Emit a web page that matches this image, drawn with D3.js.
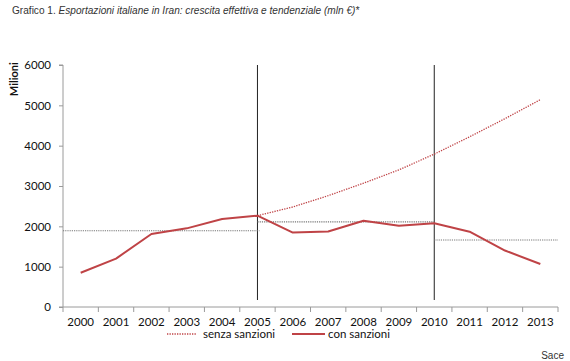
<!DOCTYPE html>
<html>
<head>
<meta charset="utf-8">
<script src="https://cdn.jsdelivr.net/npm/d3@7"></script>
<style>
  body { margin: 0; background: #fff; }
  svg { display: block; }
</style>
</head>
<body>
<svg id="chart" width="570" height="361"></svg>
<script>
// ---- data ----
const years = ["2000","2001","2002","2003","2004","2005","2006","2007","2008","2009","2010","2011","2012","2013"];
const conSanzioni = [850, 1200, 1810, 1950, 2180, 2264, 1845, 1870, 2140, 2015, 2075, 1868, 1400, 1066];
const senzaYears = ["2005","2006","2007","2008","2009","2010","2011","2012","2013"];
const senzaSanzioni = [2264, 2480, 2760, 3070, 3400, 3790, 4220, 4670, 5140];
const periodStart = ["2000", "2005", "2010"];
const periodEnd = ["2005", "2010", "2013"];
const periodAvg = [1890, 2110, 1660];
const markerYears = ["2005", "2010"];
const yTicks = [0, 1000, 2000, 3000, 4000, 5000, 6000];
const title1 = "Grafico 1. ";
const title2 = "Esportazioni italiane in Iran: crescita effettiva e tendenziale (mln €)*";
const yLabel = "Milioni";
const legendLabels = ["senza sanzioni", "con sanzioni"];
const source = "Sace";

// ---- layout ----
const svg = d3.select("#chart");
const pL = 63, pR = 558, pT = 65, pB = 307;
const red = "#bf4346";
const axisColor = "#9a9a9a";
const tickFont = "Lato, 'Open Sans', sans-serif";

const x = d3.scaleBand().domain(years).range([pL, pR]).paddingInner(0).paddingOuter(0);
const cx = d => x(d) + x.bandwidth() / 2;
const y = d3.scaleLinear().domain([0, 6000]).range([pB, pT]);

// title
const t = svg.append("text").attr("x", 12).attr("y", 14)
  .attr("font-family", "'Liberation Sans', Arial, sans-serif").attr("font-size", 10.1).attr("fill", "#333");
t.append("tspan").text(title1);
t.append("tspan").attr("font-style", "italic").text(title2);

// y axis
const yAxis = d3.axisLeft(y).tickValues(yTicks).tickSize(4).tickPadding(8).tickFormat(d3.format("d"));
const gy = svg.append("g").attr("transform", `translate(${pL},0)`).call(yAxis);
gy.select(".domain").attr("stroke", axisColor).attr("d", `M-4,${pT}H0V${pB}H-4`);
gy.selectAll(".tick line").attr("stroke", axisColor);
gy.selectAll(".tick text").attr("font-family", tickFont).attr("font-size", 11.5).attr("fill", "#111");

svg.append("text").attr("transform", `translate(18,${(y(6000) + y(5000)) / 2 - 6}) rotate(-90)`)
  .attr("text-anchor", "middle").attr("font-family", tickFont).attr("font-weight", "bold")
  .attr("font-size", 11).attr("fill", "#111").text(yLabel);

// x axis
const xAxis = d3.axisBottom(x).tickSize(0).tickPadding(11);
const gx = svg.append("g").attr("transform", `translate(0,${pB})`).call(xAxis);
gx.select(".domain").attr("stroke", axisColor).attr("d", `M${pL},0H${pR}`);
gx.selectAll(".tick text").attr("font-family", tickFont).attr("font-size", 11.5).attr("fill", "#111");
const edges = years.map(d => x(d)).concat([x(years[years.length - 1]) + x.bandwidth()]);
gx.selectAll("line.edge").data(edges).enter().append("line").attr("class", "edge")
  .attr("x1", d => d).attr("x2", d => d).attr("y1", 0).attr("y2", 5).attr("stroke", axisColor);

// vertical markers
svg.selectAll("line.marker").data(markerYears).enter().append("line").attr("class", "marker")
  .attr("x1", d => cx(d)).attr("x2", d => cx(d)).attr("y1", y(6000)).attr("y2", pB - 7)
  .attr("stroke", "#222").attr("stroke-width", 1);

// period averages
const px0 = (d, i) => i === 0 ? pL : cx(d);
const px1 = (d, i) => i === periodEnd.length - 1 ? pR : cx(d) + (i === 0 ? 2 : 0);
svg.selectAll("line.avg").data(periodAvg).enter().append("line").attr("class", "avg")
  .attr("x1", (d, i) => px0(periodStart[i], i)).attr("x2", (d, i) => px1(periodEnd[i], i))
  .attr("y1", d => y(d)).attr("y2", d => y(d))
  .attr("stroke", "#777").attr("stroke-width", 1.1).attr("stroke-dasharray", "1.2,1");

// senza sanzioni
const line = d3.line().x(d => cx(d[0])).y(d => y(d[1]));
svg.append("path").datum(senzaYears.map((d, i) => [d, senzaSanzioni[i]]))
  .attr("d", line).attr("fill", "none").attr("stroke", red).attr("stroke-width", 1.3)
  .attr("stroke-dasharray", "1.3,1.2");

// con sanzioni
svg.append("path").datum(years.map((d, i) => [d, conSanzioni[i]]))
  .attr("d", line).attr("fill", "none").attr("stroke", red).attr("stroke-width", 2)
  .attr("stroke-linejoin", "round");

// legend
const ly = 334;
svg.append("line").attr("x1", 167).attr("x2", 197).attr("y1", ly).attr("y2", ly)
  .attr("stroke", red).attr("stroke-width", 1.3).attr("stroke-dasharray", "1.3,1.2");
svg.append("text").attr("x", 203).attr("y", ly + 4).attr("font-family", tickFont).attr("font-size", 11.5)
  .attr("fill", "#111").text(legendLabels[0]);
svg.append("line").attr("x1", 292).attr("x2", 325).attr("y1", ly).attr("y2", ly)
  .attr("stroke", red).attr("stroke-width", 2);
svg.append("text").attr("x", 328).attr("y", ly + 4).attr("font-family", tickFont).attr("font-size", 11.5)
  .attr("fill", "#111").text(legendLabels[1]);

// source
svg.append("text").attr("x", 564).attr("y", 359).attr("text-anchor", "end")
  .attr("font-family", "'Liberation Sans', Arial, sans-serif").attr("font-size", 10).attr("fill", "#333").text(source);
</script>
</body>
</html>
